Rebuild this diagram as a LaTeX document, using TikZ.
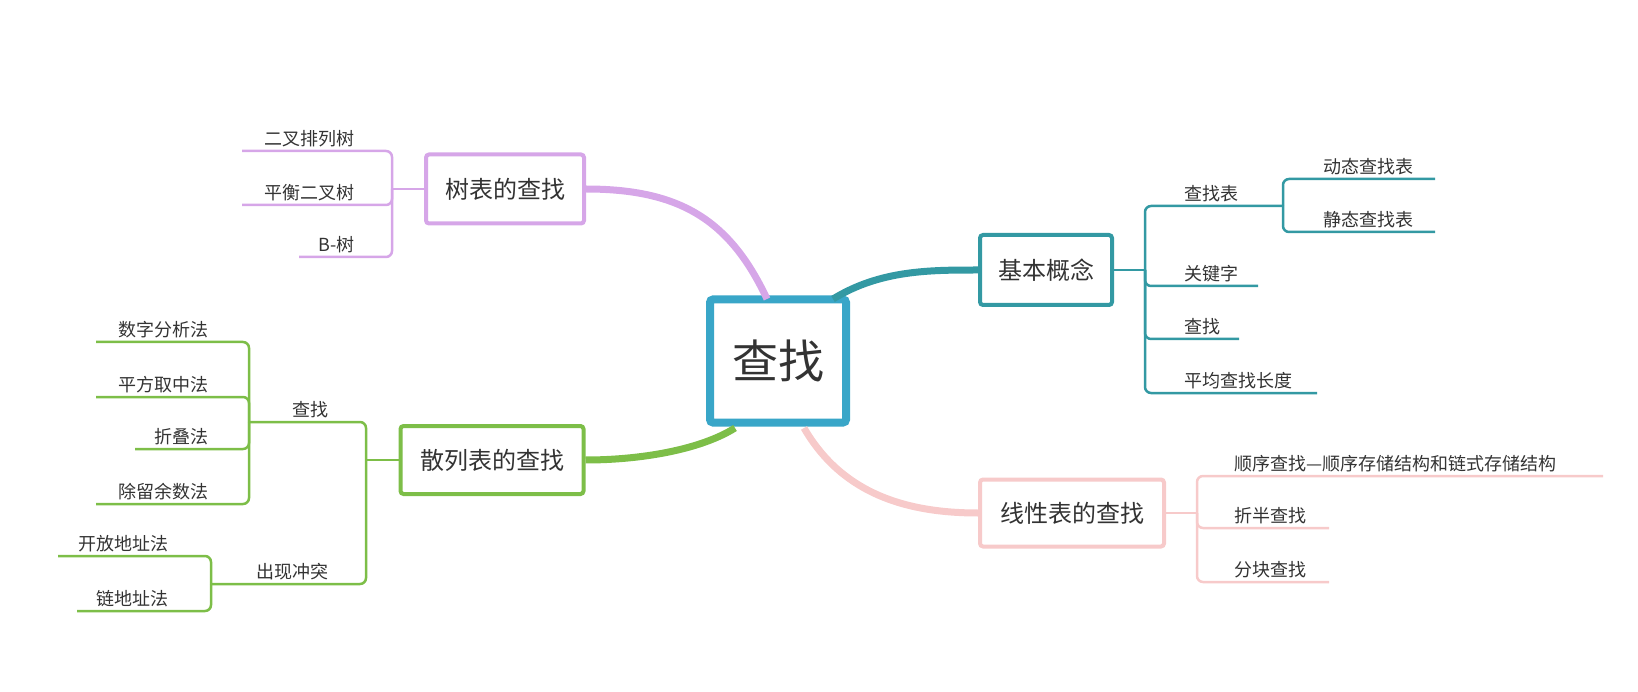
\documentclass[tikz,border=0pt]{standalone}
\usepackage{fontspec}
\setmainfont{Noto Sans CJK SC}
\usetikzlibrary{positioning}
\definecolor{cblue}{HTML}{39A6C8}
\definecolor{cteal}{HTML}{3399A3}
\definecolor{cpurple}{HTML}{D6A6E8}
\definecolor{cgreen}{HTML}{7DBE48}
\definecolor{cpink}{HTML}{F7CACA}
\definecolor{ctext}{HTML}{333333}

\begin{document}
\begin{tikzpicture}[
  x=1pt, y=-1pt,
  text=ctext,
  topic/.style={draw, line width=4pt, rounded corners=3pt, fill=white, align=center, font=\fontsize{24}{28}\selectfont, inner sep=0pt},
  leaf/.style={inner sep=1pt, font=\fontsize{18}{20}\selectfont},
  branch/.style={line width=2.5pt, rounded corners=6pt},
  main/.style={line width=7pt}
]
\useasboundingbox (0,0) rectangle (1638,692);

% Central and main topics
\node[topic, draw=cblue, line width=8pt, minimum width=136pt, minimum height=123pt, font=\fontsize{46}{50}\selectfont] (root) at (778,361) {查找};
\node[topic, draw=cteal, minimum width=132pt, minimum height=70pt] (basic) at (1046,270) {基本概念};
\node[topic, draw=cpurple, minimum width=158pt, minimum height=69pt] (tree) at (505,189) {树表的查找};
\node[topic, draw=cgreen, minimum width=183pt, minimum height=68pt] (hash) at (492,460) {散列表的查找};
\node[topic, draw=cpink, minimum width=184pt, minimum height=67pt] (linear) at (1072,513) {线性表的查找};

% Main connectors
\draw[main, cteal] (833,299) .. controls (880,270) and (930,270) .. (basic.west);
\draw[main, cpurple] (767,299) .. controls (730,220) and (680,189) .. (tree.east);
\draw[main, cgreen] (735,428) .. controls (700,450) and (640,460) .. (hash.east);
\draw[main, cpink] (804,428) .. controls (840,490) and (900,513) .. (linear.west);

% Basic concepts
\coordinate (bj) at (1145,270);
\draw[branch, cteal] (basic.east) -- (bj);
\node[leaf, anchor=south west] (lookup) at (1183,203) {查找表};
\node[leaf, anchor=south west] (keyw) at (1183,283) {关键字};
\node[leaf, anchor=south west] (srch) at (1183,336) {查找};
\node[leaf, anchor=south west] (asl) at (1183,390) {平均查找长度};
\draw[branch, cteal] (bj) |- (1283,206);
\draw[branch, cteal] (bj) |- (1258,286);
\draw[branch, cteal] (bj) |- (1239,339);
\draw[branch, cteal] (bj) |- (1317,393);
\coordinate (lj) at (1283,206);
\node[leaf, anchor=south west] (dyn) at (1322,176) {动态查找表};
\node[leaf, anchor=south west] (sta) at (1322,229) {静态查找表};
\draw[branch, cteal] (lj) |- (1435,179);
\draw[branch, cteal] (lj) |- (1435,232);

% Linear table
\coordinate (sj) at (1197,513);
\draw[branch, cpink] (linear.east) -- (sj);
\node[leaf, anchor=south west] (seq) at (1233,473) {顺序查找—顺序存储结构和链式存储结构};
\node[leaf, anchor=south west] (bin) at (1233,525) {折半查找};
\node[leaf, anchor=south west] (blk) at (1233,579) {分块查找};
\draw[branch, cpink] (sj) |- (1603,476);
\draw[branch, cpink] (sj) |- (1329,528);
\draw[branch, cpink] (sj) |- (1329,582);

% Tree table
\coordinate (tj) at (392,189);
\draw[branch, cpurple] (tree.west) -- (tj);
\node[leaf, anchor=south east] (bst) at (356,148) {二叉排列树};
\node[leaf, anchor=south east] (avl) at (356,202) {平衡二叉树};
\node[leaf, anchor=south east] (btree) at (356,254) {B-树};
\draw[branch, cpurple] (tj) |- (242,151);
\draw[branch, cpurple] (tj) |- (242,205);
\draw[branch, cpurple] (tj) |- (299,257);

% Hash table
\coordinate (hj) at (366,460);
\draw[branch, cgreen] (hash.west) -- (hj);
\node[leaf, anchor=south east] (hfind) at (330,419) {查找};
\node[leaf, anchor=south east] (coll) at (330,581) {出现冲突};
\draw[branch, cgreen] (hj) |- (249,422);
\draw[branch, cgreen] (hj) |- (211,584);
\coordinate (fj) at (249,422);
\node[leaf, anchor=south east] (digit) at (210,339) {数字分析法};
\node[leaf, anchor=south east] (msq) at (210,394) {平方取中法};
\node[leaf, anchor=south east] (fold) at (210,446) {折叠法};
\node[leaf, anchor=south east] (mod) at (210,501) {除留余数法};
\draw[branch, cgreen] (fj) |- (96,342);
\draw[branch, cgreen] (fj) |- (96,397);
\draw[branch, cgreen] (fj) |- (135,449);
\draw[branch, cgreen] (fj) |- (96,504);
\coordinate (cj) at (211,584);
\node[leaf, anchor=south east] (open) at (170,553) {开放地址法};
\node[leaf, anchor=south east] (chain) at (170,608) {链地址法};
\draw[branch, cgreen] (cj) |- (58,556);
\draw[branch, cgreen] (cj) |- (77,611);
\end{tikzpicture}
\end{document}
